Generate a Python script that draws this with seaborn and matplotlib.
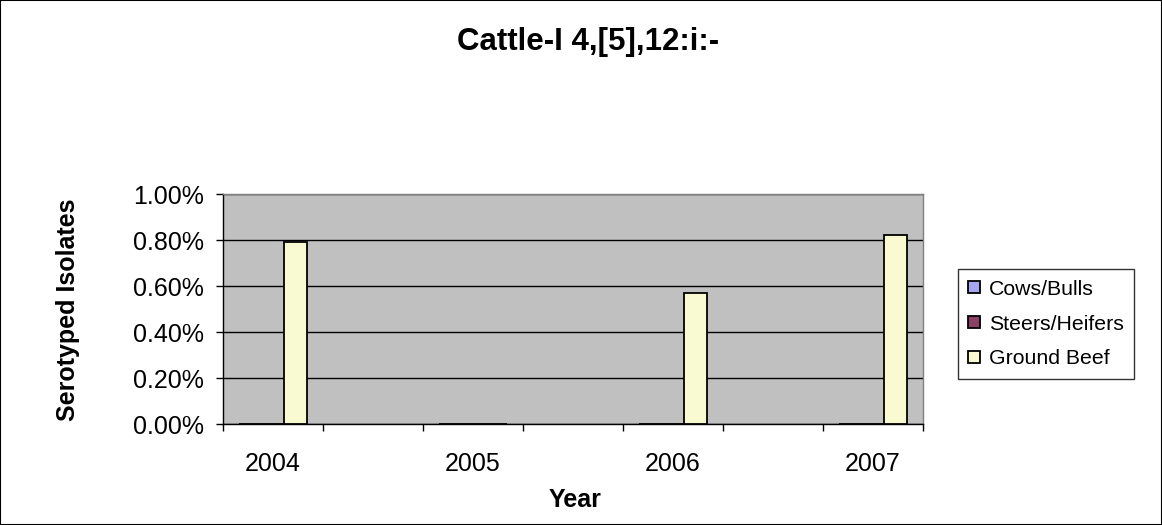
import numpy as np
import pandas as pd
import matplotlib
matplotlib.use("Agg")
import matplotlib.pyplot as plt
import seaborn as sns
from matplotlib.ticker import PercentFormatter
from matplotlib.patches import Rectangle

# categories on the x axis (every other slot is labelled)
slots = ["2004", "2004b", "2005", "2005b", "2006", "2006b", "2007"]
tick_labels = ["2004", "", "2005", "", "2006", "", "2007"]
groups = ["Cows/Bulls", "Steers/Heifers", "Ground Beef"]

# share of serotyped isolates
cows_bulls = [0.0, np.nan, 0.0, np.nan, 0.0, np.nan, 0.0]
steers_heifers = [0.0, np.nan, 0.0, np.nan, 0.0, np.nan, 0.0]
ground_beef = [0.0079, np.nan, 0.0, np.nan, 0.0057, np.nan, 0.0082]

colors = {"Cows/Bulls": "#9999FF", "Steers/Heifers": "#993366", "Ground Beef": "#FFFFCC"}

df = pd.DataFrame({
    "slot": slots * 3,
    "group": np.repeat(groups, len(slots)),
    "value": cows_bulls + steers_heifers + ground_beef,
})

sns.set_style("white")
plt.rcParams["font.family"] = ["Liberation Sans", "DejaVu Sans"]
plt.rcParams["text.color"] = "black"
plt.rcParams["xtick.color"] = "black"
plt.rcParams["ytick.color"] = "black"

fig = plt.figure(figsize=(11.62, 5.25), dpi=100)
ax = fig.add_axes([223 / 1162, 1 - 424 / 525, 700 / 1162, 230 / 525])
ax.set_facecolor("#C0C0C0")

sns.barplot(data=df, x="slot", y="value", hue="group", order=slots, hue_order=groups,
            palette=colors, width=0.68, edgecolor="black", linewidth=1.3,
            ax=ax, zorder=3)

handles, labels = ax.get_legend_handles_labels()
ax.get_legend().remove()

ax.set_xlim(-0.5, len(slots) - 0.5)
ax.set_ylim(0, 0.01)
ax.set_yticks(np.arange(0, 0.0101, 0.002))
ax.yaxis.set_major_formatter(PercentFormatter(1.0, decimals=2))
ax.set_xticks(range(len(slots)))
ax.set_xticklabels(tick_labels)
ax.set_xticks(np.arange(-0.5, len(slots), 1), minor=True)
ax.tick_params(axis="x", which="major", length=0, pad=20, labelsize=18, labelcolor="black")
ax.tick_params(axis="x", which="minor", length=5, width=1, color="black", direction="out", bottom=True)
ax.tick_params(axis="y", length=5, width=1, color="black", direction="out", left=True, pad=9,
               labelsize=18, labelcolor="black")
ax.set_xlabel("")
ax.set_ylabel("")

ax.yaxis.grid(True, color="black", linewidth=1)
ax.xaxis.grid(False)
ax.set_axisbelow(True)
for side in ["left", "bottom"]:
    ax.spines[side].set_color("black")
    ax.spines[side].set_linewidth(1)
for side in ["top", "right"]:
    ax.spines[side].set_color("#808080")
    ax.spines[side].set_linewidth(1)

fig.text(588 / 1162, 1 - 42 / 525, "Cattle-I 4,[5],12:i:-", ha="center", va="center",
         fontsize=22.5, fontweight="bold", color="black")
fig.text(68 / 1162, 1 - 310 / 525, "Serotyped Isolates", ha="center", va="center",
         rotation=90, fontsize=18, fontweight="bold", color="black")
fig.text(575 / 1162, 1 - 500 / 525, "Year", ha="center", va="center",
         fontsize=18, fontweight="bold", color="black")

leg = fig.legend(handles, labels, loc="center", bbox_to_anchor=(1046 / 1162, 1 - 324 / 525),
                 fontsize=15.3, frameon=True, fancybox=False, edgecolor="black",
                 handlelength=0.55, handleheight=0.55, handletextpad=0.4,
                 labelspacing=0.75, borderpad=0.5)
leg.get_frame().set_linewidth(1)
for t in leg.get_texts():
    t.set_color("black")

fig.patches.append(Rectangle((0, 0), 1, 1, transform=fig.transFigure, fill=False,
                             edgecolor="black", linewidth=1.5))

fig.savefig("out.png", dpi=100)
